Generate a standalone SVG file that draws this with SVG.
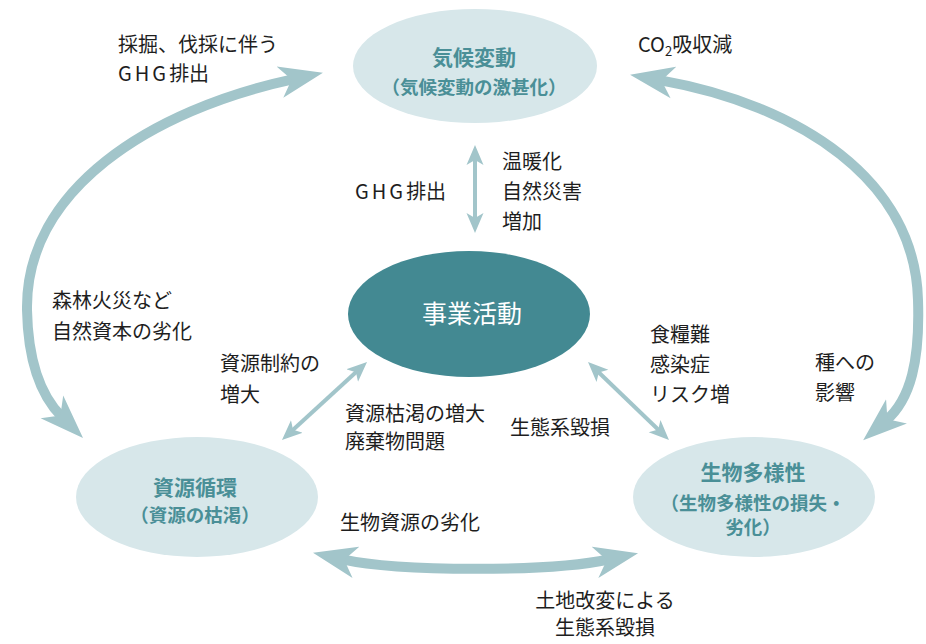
<svg xmlns="http://www.w3.org/2000/svg" width="926" height="644" viewBox="0 0 926 644">
<style>
.lbl{font-family:"Noto Sans CJK JP","Noto Sans",sans-serif;font-size:20px;fill:#1e1e1e}
.nt1{font-family:"Noto Sans CJK JP","Noto Sans",sans-serif;font-size:21px;font-weight:700;fill:#4a8f97;text-anchor:middle}
.nt2{font-family:"Noto Sans CJK JP","Noto Sans",sans-serif;font-size:18.5px;font-weight:700;fill:#4a8f97;text-anchor:middle}
.light{fill:#d7e7ea}
.big{fill:none;stroke:#a2c5ca;stroke-width:10;marker-start:url(#bigHead);marker-end:url(#bigHead)}
.thin{fill:none;stroke:#a2c5ca;stroke-width:4;marker-start:url(#thinHead);marker-end:url(#thinHead)}
</style>
<defs>
<marker id="bigHead" markerUnits="userSpaceOnUse" viewBox="0 -17 46 34" refX="14" refY="0" markerWidth="46" markerHeight="34" orient="auto-start-reverse">
<path d="M0,-16 L44,0 L0,16 L12,0 Z" fill="#a2c5ca"/>
</marker>
<marker id="thinHead" markerUnits="userSpaceOnUse" viewBox="0 -9 21 18" refX="6" refY="0" markerWidth="21" markerHeight="18" orient="auto-start-reverse">
<path d="M0,-8.5 L20,0 L0,8.5 L5,0 Z" fill="#a2c5ca"/>
</marker>
</defs>
<rect width="926" height="644" fill="#ffffff"/>
<g id="connectors">
<path class="big" d="M293.6,79.1 C150,110 25,190 27,310 C28,360 40,395 61.8,416.8"/>
<path class="big" d="M659.6,80.1 C800,105 915,180 918,300 C920,360 911,399 885.9,420.6"/>
<path class="big" d="M342.3,559.3 C400,572 550,572 608.7,559.5"/>
<path class="thin" d="M475,159 L475,219"/>
<path class="thin" d="M356.7,371.5 L292.3,430.5"/>
<path class="thin" d="M598.1,371.7 L658.9,430.3"/>
</g>
<g id="node-climate">
<ellipse class="light" cx="475" cy="66" rx="122" ry="57"/>
<text class="nt1" x="474" y="65">気候変動</text>
<text class="nt2" x="474" y="94">（気候変動の激甚化）</text>
</g>
<g id="node-business">
<ellipse cx="469" cy="314" rx="121" ry="63" fill="#438992"/>
<text x="472" y="323" font-family="'Noto Sans CJK JP','Noto Sans',sans-serif" font-size="25" fill="#ffffff" text-anchor="middle">事業活動</text>
</g>
<g id="node-resource">
<ellipse class="light" cx="197" cy="497" rx="121" ry="60"/>
<text class="nt1" x="195" y="495">資源循環</text>
<text class="nt2" x="195" y="522">（資源の枯渇）</text>
</g>
<g id="node-biodiversity">
<ellipse class="light" cx="754" cy="497" rx="121" ry="60"/>
<text class="nt1" x="753" y="480">生物多様性</text>
<text class="nt2" x="753" y="510">（生物多様性の損失・</text>
<text class="nt2" x="753" y="534">劣化）</text>
</g>
<g id="labels">
<text class="lbl" x="118" y="52">採掘、伐採に伴う</text>
<text class="lbl" x="118" y="81"><tspan letter-spacing="3">GHG</tspan>排出</text>
<text class="lbl" x="638" y="52">CO<tspan font-size="13" dy="4">2</tspan><tspan dy="-4">吸収減</tspan></text>
<text class="lbl" x="355" y="199"><tspan letter-spacing="3">GHG</tspan>排出</text>
<text class="lbl" x="502" y="169">温暖化</text>
<text class="lbl" x="502" y="199">自然災害</text>
<text class="lbl" x="502" y="229">増加</text>
<text class="lbl" x="52" y="308">森林火災など</text>
<text class="lbl" x="52" y="339">自然資本の劣化</text>
<text class="lbl" x="220" y="371">資源制約の</text>
<text class="lbl" x="220" y="402">増大</text>
<text class="lbl" x="345" y="421">資源枯渇の増大</text>
<text class="lbl" x="345" y="449">廃棄物問題</text>
<text class="lbl" x="510" y="435">生態系毀損</text>
<text class="lbl" x="650" y="342">食糧難</text>
<text class="lbl" x="650" y="372">感染症</text>
<text class="lbl" x="650" y="402">リスク増</text>
<text class="lbl" x="815" y="370">種への</text>
<text class="lbl" x="815" y="400">影響</text>
<text class="lbl" x="340" y="530">生物資源の劣化</text>
<text class="lbl" x="605" y="608" text-anchor="middle">土地改変による</text>
<text class="lbl" x="605" y="635" text-anchor="middle">生態系毀損</text>
</g>
</svg>
